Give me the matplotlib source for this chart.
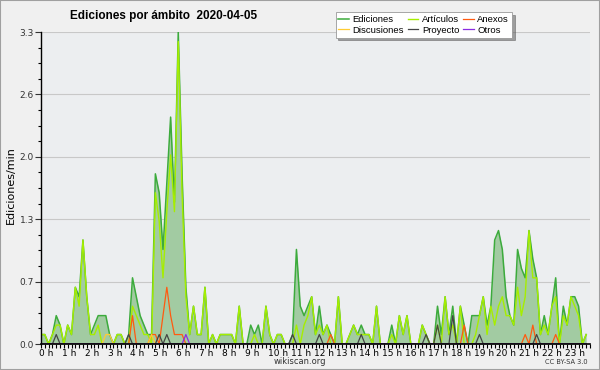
import matplotlib
matplotlib.use('Agg')
import matplotlib.pyplot as plt
import matplotlib.transforms as mtransforms
from matplotlib.ticker import FixedLocator, MultipleLocator
from matplotlib.patches import Rectangle

# edits per minute, one value per 10 minute bin (6 per hour)
ediciones = [
    0.1, 0.1, 0.0, 0.1, 0.3, 0.2,   # 0 h
    0.0, 0.2, 0.1, 0.6, 0.5, 1.1,   # 1 h
    0.5, 0.1, 0.2, 0.3, 0.3, 0.3,   # 2 h
    0.1, 0.0, 0.1, 0.1, 0.0, 0.1,   # 3 h
    0.7, 0.5, 0.3, 0.2, 0.1, 0.1,   # 4 h
    1.8, 1.6, 1.0, 1.7, 2.4, 1.5,   # 5 h
    3.3, 1.8, 0.6, 0.1, 0.4, 0.1,   # 6 h
    0.1, 0.6, 0.0, 0.1, 0.0, 0.1,   # 7 h
    0.1, 0.1, 0.1, 0.0, 0.4, 0.0,   # 8 h
    0.0, 0.2, 0.1, 0.2, 0.0, 0.4,   # 9 h
    0.1, 0.0, 0.1, 0.1, 0.0, 0.0,   # 10 h
    0.1, 1.0, 0.4, 0.3, 0.4, 0.5,   # 11 h
    0.1, 0.4, 0.1, 0.2, 0.1, 0.0,   # 12 h
    0.5, 0.0, 0.0, 0.1, 0.2, 0.1,   # 13 h
    0.2, 0.1, 0.1, 0.0, 0.4, 0.0,   # 14 h
    0.0, 0.0, 0.2, 0.0, 0.3, 0.1,   # 15 h
    0.3, 0.0, 0.0, 0.0, 0.2, 0.1,   # 16 h
    0.0, 0.0, 0.4, 0.1, 0.5, 0.1,   # 17 h
    0.4, 0.0, 0.4, 0.2, 0.0, 0.3,   # 18 h
    0.3, 0.3, 0.5, 0.2, 0.4, 1.1,   # 19 h
    1.2, 1.0, 0.5, 0.3, 0.2, 1.0,   # 20 h
    0.8, 0.7, 1.2, 0.9, 0.7, 0.1,   # 21 h
    0.3, 0.1, 0.4, 0.7, 0.0, 0.4,   # 22 h
    0.2, 0.5, 0.5, 0.4, 0.0, 0.1,   # 23 h
]

articulos = [
    0.1, 0.1, 0.0, 0.1, 0.2, 0.2,
    0.0, 0.2, 0.1, 0.6, 0.4, 1.1,
    0.5, 0.1, 0.1, 0.2, 0.0, 0.0,
    0.0, 0.0, 0.1, 0.1, 0.0, 0.0,
    0.4, 0.3, 0.2, 0.1, 0.1, 0.0,
    1.6, 1.3, 0.7, 1.4, 2.0, 1.4,
    3.2, 1.6, 0.5, 0.1, 0.4, 0.1,
    0.1, 0.6, 0.0, 0.1, 0.0, 0.1,
    0.1, 0.1, 0.1, 0.0, 0.4, 0.0,
    0.0, 0.0, 0.1, 0.0, 0.0, 0.4,
    0.1, 0.0, 0.1, 0.1, 0.0, 0.0,
    0.0, 0.2, 0.0, 0.2, 0.3, 0.5,
    0.1, 0.2, 0.1, 0.2, 0.0, 0.0,
    0.5, 0.0, 0.0, 0.1, 0.2, 0.1,
    0.1, 0.1, 0.1, 0.0, 0.4, 0.0,
    0.0, 0.0, 0.1, 0.0, 0.3, 0.1,
    0.3, 0.0, 0.0, 0.0, 0.2, 0.1,
    0.0, 0.0, 0.2, 0.0, 0.5, 0.1,
    0.2, 0.0, 0.4, 0.0, 0.0, 0.0,
    0.1, 0.3, 0.5, 0.1, 0.4, 0.2,
    0.4, 0.5, 0.3, 0.3, 0.2, 0.6,
    0.3, 0.5, 1.2, 0.7, 0.7, 0.1,
    0.2, 0.1, 0.4, 0.5, 0.0, 0.3,
    0.2, 0.5, 0.4, 0.3, 0.0, 0.1,
]

# sparse series: bin index -> value, every other bin is 0
anexos_bins = {24: 0.3, 29: 0.1, 30: 0.1, 32: 0.3, 33: 0.6, 34: 0.3, 35: 0.1,
               36: 0.1, 37: 0.1, 76: 0.1, 111: 0.2, 127: 0.1, 129: 0.2, 135: 0.1}
discusiones_bins = {17: 0.1, 18: 0.1, 29: 0.1}
proyecto_bins = {4: 0.1, 23: 0.1, 31: 0.1, 33: 0.1, 66: 0.1, 73: 0.1, 84: 0.1,
                 101: 0.1, 104: 0.2, 108: 0.3, 115: 0.1, 130: 0.1}
otros_bins = {38: 0.1}

hour_labels = ['%d h' % h for h in range(24)]
ytick_vals = [0.0, 0.66, 1.32, 1.98, 2.64, 3.3]
ytick_labels = ['0.0', '0.7', '1.3', '2.0', '2.6', '3.3']


def expand(bins):
    return [bins.get(i, 0.0) for i in range(len(ediciones))]


x = [i / 6 for i in range(len(ediciones))]

fig = plt.figure(figsize=(6, 3.7), dpi=100, facecolor='#f0f0f0')
ax = fig.add_axes([41 / 600, 1 - 344 / 370, 549 / 600, 312 / 370])
ax.set_facecolor('#eceef0')

ax.fill_between(x, ediciones, 0, color='#a2cba2', lw=0, zorder=1)
ax.plot(x, ediciones, color='#3cab3c', lw=1.1, zorder=2, label='Ediciones')
ax.plot(x, articulos, color='#a6ee00', lw=1.0, zorder=2.1, label='Artículos')
ax.plot(x, expand(anexos_bins), color='#ff5a10', lw=0.9, zorder=2.2, label='Anexos')
ax.plot(x, expand(discusiones_bins), color='#ffcc33', lw=0.9, zorder=2.2, label='Discusiones')
ax.plot(x, expand(proyecto_bins), color='#444444', lw=0.9, zorder=2.2, label='Proyecto')
ax.plot(x, expand(otros_bins), color='#8a2be2', lw=0.9, zorder=2.2, label='Otros')

ax.set_xlim(0, 24)
ax.set_ylim(0, 3.3)

for s in ['top', 'right']:
    ax.spines[s].set_visible(False)
ax.spines['left'].set_linewidth(1.0)
ax.spines['bottom'].set_linewidth(1.2)

ax.yaxis.set_major_locator(FixedLocator(ytick_vals))
ax.set_yticklabels(ytick_labels)
ax.yaxis.set_minor_locator(MultipleLocator(0.165))
ax.grid(axis='y', which='major', color='#c8c8c8', lw=0.8)
ax.set_axisbelow(True)

ax.set_xticks(range(24))
ax.set_xticklabels(hour_labels)
ax.xaxis.set_minor_locator(MultipleLocator(1 / 6))
ax.tick_params(axis='x', which='both', length=3, width=0.8, labelsize=6.5, pad=0.5)
ax.tick_params(axis='y', which='major', length=4, width=0.8, labelsize=6.5, pad=1, colors='#333333')
ax.tick_params(axis='y', which='minor', length=2.5, width=0.8)
shift = mtransforms.ScaledTranslation(-2 / 100, 0, fig.dpi_scale_trans)
for lab in ax.get_xticklabels():
    lab.set_horizontalalignment('left')
    lab.set_transform(lab.get_transform() + shift)

# y axis title placed in figure pixels, like the reference
fig.text(11 / 600, 1 - 185 / 370, 'Ediciones/min', rotation=90, ha='center', va='center',
         fontsize=8)

fig.text(0.273, 1 - 16 / 370, 'Ediciones por ámbito  2020-04-05', ha='center', va='center',
         fontsize=8.5, fontweight='bold', family='Liberation Sans')

h, l = ax.get_legend_handles_labels()
order = [0, 3, 1, 4, 2, 5]
leg = fig.legend([h[i] for i in order], [l[i] for i in order], ncol=3,
                 loc='upper right', bbox_to_anchor=(512 / 600, 1 - 12 / 370),
                 prop={'family': 'Liberation Sans', 'size': 6.8},
                 frameon=True, fancybox=False, shadow=True,
                 handlelength=1.1, handletextpad=0.4, columnspacing=0.4,
                 labelspacing=0.2, borderpad=0.3, borderaxespad=0)
leg.get_frame().set_edgecolor('#999999')
leg.get_frame().set_linewidth(0.6)

fig.text(0.5, 1 - 362 / 370, 'wikiscan.org', ha='center', va='center', fontsize=6, color='#333333')
fig.text(588 / 600, 1 - 362 / 370, 'CC BY-SA 3.0', ha='right', va='center', fontsize=4.8, color='#333333')

fig.patches.append(Rectangle((0, 0), 1, 1, transform=fig.transFigure, fill=False,
                             edgecolor='#a0a0a0', lw=1.5))

fig.savefig('out.png', dpi=100, facecolor=fig.get_facecolor())
